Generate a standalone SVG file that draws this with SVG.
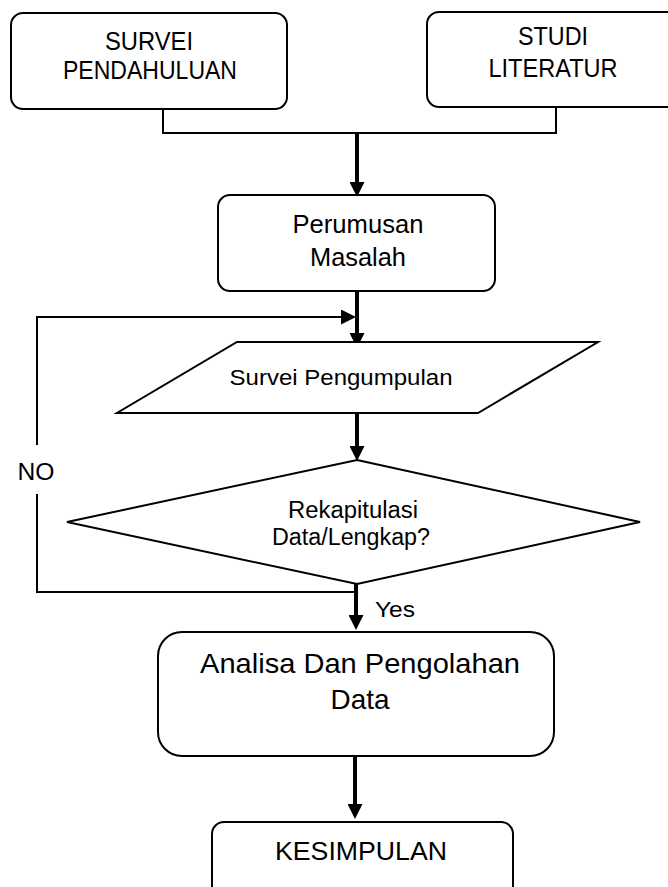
<svg xmlns="http://www.w3.org/2000/svg" width="668" height="887" viewBox="0 0 668 887">
  <defs>
    <style>
      .box { fill: #fff; stroke: #000; stroke-width: 2; }
      .lbl { font-family: "Liberation Sans", Arial, sans-serif; fill: #000; text-anchor: middle; }
      .thin { fill: none; stroke: #000; stroke-width: 2; }
      .thick { fill: none; stroke: #000; stroke-width: 4; }
    </style>
    <marker id="head" viewBox="0 0 10 10" refX="4" refY="5" markerWidth="15" markerHeight="15" markerUnits="userSpaceOnUse" orient="auto">
      <path d="M0,0 L10,5 L0,10 z" fill="#000"/>
    </marker>
  </defs>
  <rect width="668" height="887" fill="#fff"/>

  <g id="connectors">
    <path class="thin" d="M163,109 V133 H556 V107"/>
    <path class="thick" d="M357,133 V188" marker-end="url(#head)"/>
    <path class="thick" d="M357,291 V339" marker-end="url(#head)"/>
    <path class="thick" d="M357,413 V452" marker-end="url(#head)"/>
    <path class="thin" d="M357,592 H37 V494"/>
    <path class="thin" d="M37,445 V317 H347" marker-end="url(#head)"/>
    <path class="thick" d="M356,578 V621" marker-end="url(#head)"/>
    <path class="thick" d="M355,756 V810" marker-end="url(#head)"/>
    <text class="lbl" x="36" y="480" font-size="24" textLength="37" lengthAdjust="spacingAndGlyphs">NO</text>
    <text class="lbl" x="395" y="617" font-size="22" textLength="40" lengthAdjust="spacingAndGlyphs">Yes</text>
  </g>

  <g id="survei-pendahuluan">
    <rect class="box" x="11" y="13" width="276" height="96" rx="12"/>
    <text class="lbl" x="149" y="50" font-size="25" textLength="88" lengthAdjust="spacingAndGlyphs">SURVEI</text>
    <text class="lbl" x="150" y="79" font-size="25" textLength="174" lengthAdjust="spacingAndGlyphs">PENDAHULUAN</text>
  </g>

  <g id="studi-literatur">
    <rect class="box" x="427" y="12" width="254" height="95" rx="12"/>
    <text class="lbl" x="553" y="45" font-size="25" textLength="70" lengthAdjust="spacingAndGlyphs">STUDI</text>
    <text class="lbl" x="553" y="77" font-size="25" textLength="129" lengthAdjust="spacingAndGlyphs">LITERATUR</text>
  </g>

  <g id="perumusan-masalah">
    <rect class="box" x="218" y="195" width="277" height="96" rx="12"/>
    <text class="lbl" x="358" y="233" font-size="26" textLength="131" lengthAdjust="spacingAndGlyphs">Perumusan</text>
    <text class="lbl" x="358" y="266" font-size="26" textLength="96" lengthAdjust="spacingAndGlyphs">Masalah</text>
  </g>

  <g id="survei-pengumpulan">
    <polygon class="box" points="237,342 598,342 478,413 117,413"/>
    <text class="lbl" x="341" y="385" font-size="22" textLength="223" lengthAdjust="spacingAndGlyphs">Survei Pengumpulan</text>
  </g>

  <g id="rekapitulasi">
    <polygon class="box" points="357,460 640,522 357,584 67,522"/>
    <text class="lbl" x="353" y="518" font-size="23" textLength="130" lengthAdjust="spacingAndGlyphs">Rekapitulasi</text>
    <text class="lbl" x="351" y="545" font-size="23" textLength="158" lengthAdjust="spacingAndGlyphs">Data/Lengkap?</text>
  </g>

  <g id="analisa">
    <rect class="box" x="158" y="632" width="396" height="124" rx="24"/>
    <text class="lbl" x="360" y="673" font-size="28" textLength="320" lengthAdjust="spacingAndGlyphs">Analisa Dan Pengolahan</text>
    <text class="lbl" x="360" y="709" font-size="28" textLength="59" lengthAdjust="spacingAndGlyphs">Data</text>
  </g>

  <g id="kesimpulan">
    <rect class="box" x="212" y="822" width="301" height="90" rx="12"/>
    <text class="lbl" x="361" y="860" font-size="25" textLength="172" lengthAdjust="spacingAndGlyphs">KESIMPULAN</text>
  </g>
</svg>
